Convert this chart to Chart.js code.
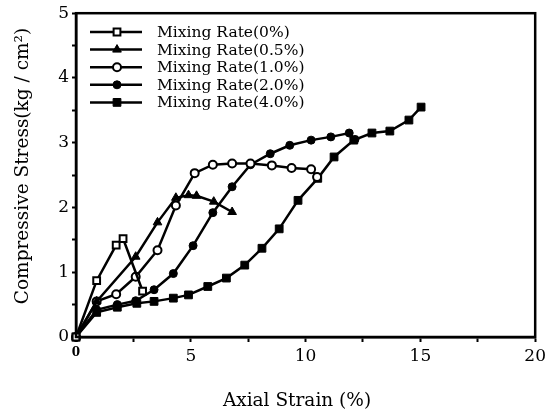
<!DOCTYPE html>
<html>
<head>
<meta charset="utf-8">
<script src="https://cdn.jsdelivr.net/npm/chart.js@4/dist/chart.umd.min.js"></script>
<style>
  html, body { margin: 0; padding: 0; background: #fff; }
  #wrap { width: 550px; height: 417px; }
</style>
</head>
<body>
<div id="wrap"><canvas id="c" width="550" height="417"></canvas></div>
<script>
// ---- data ----
const seriesNames = ['Mixing Rate(0%)', 'Mixing Rate(0.5%)', 'Mixing Rate(1.0%)', 'Mixing Rate(2.0%)', 'Mixing Rate(4.0%)'];

const strain0  = [0, 0.9, 1.75, 2.05, 2.9];
const stress0  = [0, 0.87, 1.42, 1.52, 0.71];

const strain05 = [0, 0.9, 2.6, 3.55, 4.35, 4.9, 5.25, 6.0, 6.8];
const stress05 = [0, 0.55, 1.24, 1.77, 2.15, 2.19, 2.18, 2.09, 1.93];

const strain10 = [0, 0.9, 1.75, 2.6, 3.55, 4.35, 5.17, 5.96, 6.8, 7.6, 8.53, 9.39, 10.24, 10.5];
const stress10 = [0, 0.55, 0.66, 0.93, 1.34, 2.03, 2.53, 2.66, 2.68, 2.68, 2.65, 2.61, 2.59, 2.47];

const strain20 = [0, 0.9, 1.8, 2.6, 3.4, 4.24, 5.1, 5.96, 6.8, 7.6, 8.46, 9.31, 10.24, 11.1, 11.9, 12.15];
const stress20 = [0, 0.42, 0.5, 0.56, 0.73, 0.98, 1.41, 1.92, 2.32, 2.66, 2.83, 2.96, 3.04, 3.09, 3.15, 3.05];

const strain40 = [0, 0.9, 1.8, 2.65, 3.4, 4.24, 4.9, 5.74, 6.55, 7.35, 8.1, 8.85, 9.67, 10.53, 11.24, 12.1, 12.89, 13.67, 14.5, 15.03];
const stress40 = [0, 0.38, 0.46, 0.52, 0.55, 0.60, 0.65, 0.78, 0.91, 1.11, 1.37, 1.67, 2.11, 2.45, 2.78, 3.04, 3.15, 3.18, 3.35, 3.55];

const xTitle = 'Axial Strain (%)';
const yTitle = 'Compressive Stress(kg / cm²)';
const xTickStep = 2.5, xMin = 0, xMax = 20;
const yTickStep = 0.5, yMin = 0, yMax = 5;

// ---- build ----
const pairs = (xs, ys) => xs.map((x, i) => ({ x: x, y: ys[i] }));
const FONT = "'DejaVu Serif', 'Liberation Serif', serif";

const styles = [
  { pointStyle: 'rect',     radius: 4.8, bg: '#fff', bw: 2 },
  { pointStyle: 'triangle', radius: 5,   bg: '#000', bw: 1 },
  { pointStyle: 'circle',   radius: 4,   bg: '#fff', bw: 2 },
  { pointStyle: 'circle',   radius: 4,   bg: '#000', bw: 1 },
  { pointStyle: 'rect',     radius: 5.5, bg: '#000', bw: 1 }
];
const seriesData = [
  pairs(strain0, stress0), pairs(strain05, stress05), pairs(strain10, stress10),
  pairs(strain20, stress20), pairs(strain40, stress40)
];

const datasets = seriesData.map((d, i) => ({
  label: seriesNames[i],
  data: d,
  showLine: true,
  borderColor: '#000',
  borderWidth: 2.5,
  pointStyle: styles[i].pointStyle,
  pointRadius: styles[i].radius,
  pointBackgroundColor: styles[i].bg,
  pointBorderColor: '#000',
  pointBorderWidth: styles[i].bw,
  tension: 0,
  clip: false
}));

const framePlugin = {
  id: 'frame',
  afterDatasetsDraw(chart) {
    const a = chart.chartArea, ctx = chart.ctx;
    ctx.save();
    ctx.strokeStyle = '#000';
    ctx.lineWidth = 2.5;
    ctx.strokeRect(a.left, a.top, a.right - a.left, a.bottom - a.top);
    ctx.restore();
  }
};

const textPlugin = {
  id: 'texts',
  afterDraw(chart) {
    const ctx = chart.ctx;
    ctx.save();
    // legend
    chart.data.datasets.forEach((ds, i) => {
      const y = 32 + i * 17.6;
      ctx.strokeStyle = '#000';
      ctx.lineWidth = 2.5;
      ctx.beginPath();
      ctx.moveTo(90, y);
      ctx.lineTo(142, y);
      ctx.stroke();
      ctx.fillStyle = ds.pointBackgroundColor;
      ctx.strokeStyle = '#000';
      ctx.lineWidth = ds.pointBorderWidth;
      Chart.helpers.drawPoint(ctx, { pointStyle: ds.pointStyle, radius: ds.pointRadius, borderWidth: ds.pointBorderWidth, rotation: 0 }, 117, y);
      ctx.fillStyle = '#000';
      ctx.font = '15.5px ' + FONT;
      ctx.textBaseline = 'middle';
      ctx.textAlign = 'left';
      ctx.fillText(ds.label, 157, y + 1);
    });
    // axis titles
    ctx.fillStyle = '#000';
    ctx.textAlign = 'center';
    ctx.textBaseline = 'middle';
    ctx.font = '18.5px ' + FONT;
    ctx.fillText(xTitle, 297, 401);
    ctx.translate(23, 166);
    ctx.rotate(-Math.PI / 2);
    ctx.fillText(yTitle, 0, 0);
    ctx.restore();
  }
};

new Chart(document.getElementById('c'), {
  type: 'scatter',
  data: { datasets: datasets },
  plugins: [framePlugin, textPlugin],
  options: {
    responsive: false,
    animation: false,
    layout: { padding: { left: 0, right: 10, top: 13, bottom: 0 } },
    plugins: { legend: { display: false }, tooltip: { enabled: false } },
    scales: {
      x: {
        type: 'linear', min: xMin, max: xMax,
        afterFit(s) { s.height = 80; },
        border: { display: true, color: '#000', width: 2.5 },
        grid: { drawOnChartArea: false, drawTicks: true, tickLength: 5, tickWidth: 2, tickColor: '#000' },
        ticks: {
          stepSize: xTickStep, color: '#000', padding: 4, maxRotation: 0, autoSkip: false,
          font: (c) => (c.tick && c.tick.value === 0) ? { family: FONT, size: 12, weight: 'bold' } : { family: FONT, size: 17 },
          callback: (v) => (v % 5 === 0) ? String(v) : ''
        },
        title: { display: false }
      },
      y: {
        type: 'linear', min: yMin, max: yMax,
        afterFit(s) { s.width = 76; },
        border: { display: true, color: '#000', width: 2.5 },
        grid: { drawOnChartArea: false, drawTicks: true, tickLength: 4, tickWidth: 2, tickColor: '#000' },
        ticks: {
          stepSize: yTickStep, color: '#000', padding: 3, autoSkip: false,
          font: { family: FONT, size: 17 },
          callback: (v) => Number.isInteger(v) ? String(v) : ''
        },
        title: { display: false }
      }
    }
  }
});
</script>
</body>
</html>
